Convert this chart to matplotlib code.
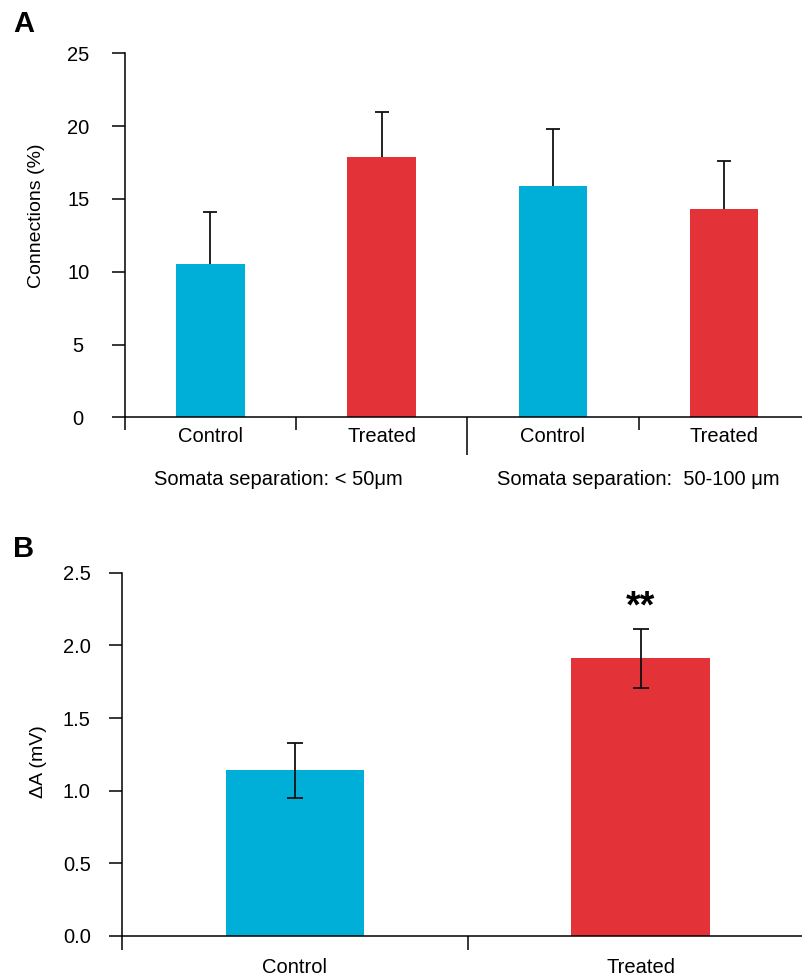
import numpy as np
import matplotlib
matplotlib.use("Agg")
import matplotlib.pyplot as plt

# --- data ---
conn_labels = ["Control", "Treated", "Control", "Treated"]
conn_mean = [10.5, 17.9, 15.9, 14.3]
conn_err = [3.6, 3.1, 3.9, 3.3]
group_labels = ["Somata separation: < 50μm", "Somata separation:  50-100 μm"]

amp_labels = ["Control", "Treated"]
amp_mean = [1.14, 1.91]
amp_err = [0.19, 0.20]

bar_colors = ["#00AFD7", "#E33338"]

plt.rcParams["font.family"] = ["Liberation Sans", "DejaVu Sans"]
plt.rcParams["axes.linewidth"] = 1.1

fig = plt.figure(figsize=(8.03, 9.76), dpi=100)

# === panel A ===
axA = fig.add_axes([0.1553, 0.5724, 0.8447, 0.373])
xa = np.arange(len(conn_mean))
colsA = [bar_colors[i % 2] for i in range(len(conn_mean))]
axA.bar(xa, conn_mean, width=0.4, color=colsA, edgecolor="none", zorder=2)
top = np.array(conn_mean) + np.array(conn_err)
axA.vlines(xa, conn_mean, top, color="#111111", lw=1.3, zorder=3)
axA.plot(xa, top, ls="none", marker="_", ms=10, mew=1.3, color="#111111", zorder=3)

axA.set_xlim(-0.5, 3.46)
axA.set_ylim(0, 25)
axA.set_yticks([0, 5, 10, 15, 20, 25])
axA.tick_params(axis="y", direction="out", length=9.5, width=1.1, pad=24, labelsize=14.5)
for t in axA.get_yticklabels():
    t.set_horizontalalignment("center")
axA.set_xticks(xa, conn_labels)
axA.tick_params(axis="x", which="major", length=0, pad=7, labelsize=14.5)
axA.set_xticks([-0.5, 0.5, 2.5], minor=True)
axA.tick_params(axis="x", which="minor", length=9.5, width=1.1)
for s in ["top", "right"]:
    axA.spines[s].set_visible(False)
axA.set_ylabel("Connections (%)", fontsize=14)
axA.yaxis.set_label_coords(-0.118, 0.553)

# group labels + long separator tick
secA = axA.secondary_xaxis("bottom")
secA.spines["bottom"].set_visible(False)
secA.set_xticks([0.4, 2.5], group_labels)
secA.tick_params(axis="x", which="major", length=0, pad=38, labelsize=14.5)
secA.set_xticks([1.5], minor=True)
secA.tick_params(axis="x", which="minor", length=27, width=1.1)

# === panel B ===
axB = fig.add_axes([0.1519, 0.0410, 0.8481, 0.3722])
xb = np.arange(len(amp_mean))
axB.bar(xb, amp_mean, width=0.4, color=bar_colors, edgecolor="none", zorder=2)
axB.errorbar(xb, amp_mean, yerr=amp_err, fmt="none", ecolor="#111111",
             elinewidth=1.3, capsize=6, capthick=1.3, zorder=3)
axB.text(1, 2.26, "**", ha="center", va="center", fontsize=27, fontweight="bold")

axB.set_xlim(-0.5, 1.47)
axB.set_ylim(0, 2.5)
axB.set_yticks([0.0, 0.5, 1.0, 1.5, 2.0, 2.5])
axB.set_yticklabels(["0.0", "0.5", "1.0", "1.5", "2.0", "2.5"])
axB.tick_params(axis="y", direction="out", length=9.5, width=1.1, pad=13, labelsize=14.5)
axB.set_xticks(xb, amp_labels)
axB.tick_params(axis="x", which="major", length=0, pad=16, labelsize=14.5)
axB.set_xticks([-0.5, 0.5], minor=True)
axB.tick_params(axis="x", which="minor", length=10, width=1.1)
for s in ["top", "right"]:
    axB.spines[s].set_visible(False)
axB.set_ylabel("ΔA (mV)", fontsize=14)
axB.yaxis.set_label_coords(-0.110, 0.48)

fig.text(24 / 803, 1 - 24 / 976, "A", fontsize=21, fontweight="bold", ha="center", va="center")
fig.text(24 / 803, 1 - 549 / 976, "B", fontsize=21, fontweight="bold", ha="center", va="center")

fig.savefig("out.png", dpi=100)
